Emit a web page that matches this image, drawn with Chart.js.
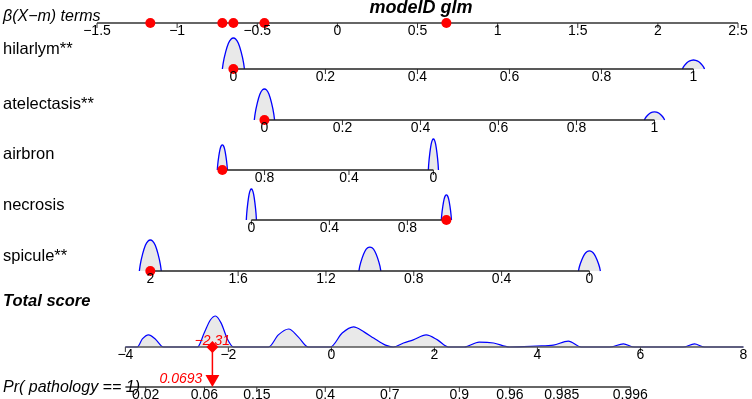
<!DOCTYPE html>
<html>
<head>
<meta charset="utf-8">
<script src="https://cdn.jsdelivr.net/npm/chart.js@4.4.0/dist/chart.umd.min.js"></script>
<style>
html, body { margin: 0; padding: 0; background: #fff; }
#wrap { width: 752px; height: 399px; }
</style>
</head>
<body>
<div id="wrap"><canvas id="canvas_nomo" width="752" height="399"></canvas></div>
<script>
// top axis: beta(X-m) terms
var betaTicks = [-1.5, -1, -0.5, 0, 0.5, 1, 1.5, 2, 2.5];

// predictors
var varLabels = ['hilarlym**', 'atelectasis**', 'airbron', 'necrosis', 'spicule**'];
var varCoef = [2.871, 2.434, -1.317, 1.217, -1.370];
var varMean = [0.226, 0.187, 0.455, 0.441, 1.148];
var varMin = [0, 0, 0, 0, 0];
var varMax = [1, 1, 1, 1, 2];
var varTicks = [
    [0, 0.2, 0.4, 0.6, 0.8, 1],
    [0, 0.2, 0.4, 0.6, 0.8, 1],
    [0.8, 0.4, 0],
    [0, 0.4, 0.8],
    [2, 1.6, 1.2, 0.8, 0.4, 0]
];
var varLevels = [[0, 1], [0, 1], [1, 0], [0, 1], [2, 1, 0]];
var varLevelDens = [[1, 0.29], [1, 0.26], [0.81, 1], [1, 0.81], [1, 0.77, 0.65]];
var varBandwidth = [0.024, 0.026, 0.024, 0.026, 0.05];
var patientValues = [0, 0, 1, 1, 2];

// kernel shape (offset in bandwidths, relative height)
var bumpOffset = [-1, -0.92, -0.7, -0.45, -0.2, 0, 0.2, 0.45, 0.7, 0.92, 1];
var bumpHeight = [0, 0.2, 0.55, 0.83, 0.97, 1, 0.97, 0.83, 0.55, 0.2, 0];

// total score
var scoreTicks = [-4, -2, 0, 2, 4, 6, 8];
var scoreDensX = [-4, -3.77, -3.67, -3.55, -3.42, -3.26, -2.60, -2.47, -2.35, -2.25, -2.14, -2.02, -1.90,
    -1.22, -1.03, -0.83, -0.64, -0.45, -0.02, 0.21, 0.43, 0.64, 0.82, 1.05, 1.20, 1.40, 1.59, 1.84, 2.06, 2.27,
    2.58, 2.87, 3.15, 3.46, 3.98, 4.31, 4.60, 4.85, 5.40, 5.67, 5.88, 6.83, 7.05, 7.24, 8];
var scoreDensY = [0, 0, 0.26, 0.39, 0.26, 0, 0, 0.45, 0.87, 1, 0.77, 0.26, 0,
    0, 0.39, 0.58, 0.32, 0, 0, 0.45, 0.65, 0.48, 0.29, 0.06, 0, 0.13, 0.23, 0.39, 0.23, 0,
    0, 0.16, 0.13, 0, 0.03, 0.06, 0.19, 0, 0, 0.1, 0, 0, 0.1, 0, 0];
var totalScore = -2.31;

// probability
var probTicks = [0.02, 0.06, 0.15, 0.4, 0.7, 0.9, 0.96, 0.985, 0.996];
var probValue = 0.0693;

// layout
var topY = 23;
var rowY = [69, 120, 170, 220, 271];
var scoreY = 347;
var probY = 387;
var densityPx = 31;
var scoreScale = 0.3214, scoreShift = -0.0374, logitShift = 0.287;
var FONT = "'Liberation Sans', Arial, sans-serif";
var RED = '#ff0000';
var BLUE = '#0000ff';

function betaOf(i, v) { return varCoef[i] * (v - varMean[i]); }
function scoreToBeta(s) { return s * scoreScale + scoreShift; }
function probToBeta(p) { return scoreToBeta(Math.log(p / (1 - p)) + logitShift); }
function fmt(v) { return String(v).replace('-', '\u2212'); }

var datasets = [];
function addLine(points, color, width, order, fillY) {
    datasets.push({
        data: points, showLine: true, borderColor: color, borderWidth: width,
        pointRadius: 0, order: order, clip: false,
        backgroundColor: fillY !== undefined ? '#e9e9e9' : color,
        fill: fillY !== undefined ? { value: fillY } : false,
        cubicInterpolationMode: fillY !== undefined ? 'monotone' : 'default'
    });
}

// axis lines
addLine([{ x: -1.5, y: topY }, { x: 2.5, y: topY }], '#333', 1.3, 1);
varLabels.forEach((_, i) => {
    addLine([{ x: betaOf(i, varMin[i]), y: rowY[i] }, { x: betaOf(i, varMax[i]), y: rowY[i] }], '#222', 1.3, 1);
});
addLine([{ x: scoreToBeta(-4), y: scoreY }, { x: scoreToBeta(8), y: scoreY }], '#555', 1.3, 1);
addLine([{ x: scoreToBeta(-4), y: probY }, { x: probToBeta(probTicks[probTicks.length - 1]), y: probY }], '#333', 1.3, 1);

// densities per level
varLabels.forEach((_, i) => {
    varLevels[i].forEach((lv, k) => {
        var pts = bumpOffset.map((o, j) => ({
            x: betaOf(i, lv + o * varBandwidth[i]),
            y: rowY[i] - bumpHeight[j] * varLevelDens[i][k] * densityPx
        }));
        addLine(pts, BLUE, 1.3, 2, rowY[i]);
    });
});
addLine(scoreDensX.map((s, j) => ({ x: scoreToBeta(s), y: scoreY - scoreDensY[j] * densityPx })), BLUE, 1.2, 2, scoreY);

// tick marks
var tickPts = [];
betaTicks.forEach(b => tickPts.push({ x: b, y: topY + 2.5 }));
varTicks.forEach((ts, i) => ts.forEach(v => tickPts.push({ x: betaOf(i, v), y: rowY[i] + 2.5 })));
scoreTicks.forEach(s => tickPts.push({ x: scoreToBeta(s), y: scoreY + 2.5 }));
probTicks.forEach(p => tickPts.push({ x: probToBeta(p), y: probY + 2.5 }));
datasets.push({
    data: tickPts, pointStyle: 'line', rotation: 90, pointRadius: 2.5,
    borderColor: '#333', borderWidth: 1, order: 1, clip: false
});

// patient markers
var dots = [];
varLabels.forEach((_, i) => {
    dots.push({ x: betaOf(i, patientValues[i]), y: topY });
    dots.push({ x: betaOf(i, patientValues[i]), y: rowY[i] });
});
datasets.push({
    data: dots, pointStyle: 'circle', pointRadius: 5, backgroundColor: RED,
    borderColor: RED, borderWidth: 0, order: 0, clip: false
});
var sx = scoreToBeta(totalScore);
addLine([{ x: sx, y: scoreY }, { x: sx, y: probY - 10 }], RED, 1.5, 0);
datasets.push({
    data: [{ x: sx, y: scoreY }], pointStyle: 'rectRot', pointRadius: 6,
    backgroundColor: RED, borderColor: RED, borderWidth: 0, order: 0, clip: false
});
datasets.push({
    data: [{ x: sx, y: probY - 8 }], pointStyle: 'triangle', rotation: 180, pointRadius: 8,
    backgroundColor: RED, borderColor: RED, borderWidth: 0, order: 0, clip: false
});

// texts: labels, tick labels
var textPlugin = {
    id: 'nomoText',
    afterDraw(chart) {
        var c = chart.ctx, xs = chart.scales.x, ys = chart.scales.y;
        function tickRow(list, toBeta, y) {
            c.font = '14px ' + FONT;
            c.fillStyle = '#000';
            c.textAlign = 'center';
            c.textBaseline = 'top';
            list.forEach(v => c.fillText(fmt(v), xs.getPixelForValue(toBeta(v)), ys.getPixelForValue(y) + 1));
        }
        c.save();
        tickRow(betaTicks, b => b, topY);
        varTicks.forEach((ts, i) => tickRow(ts, v => betaOf(i, v), rowY[i]));
        tickRow(scoreTicks, scoreToBeta, scoreY);
        tickRow(probTicks, probToBeta, probY);

        c.fillStyle = '#000';
        c.textAlign = 'left';
        c.textBaseline = 'middle';
        c.font = 'italic 16px ' + FONT;
        c.fillText('\u03b2(X\u2212m) terms', 3, 17);
        c.font = '16.5px ' + FONT;
        var labelY = [49, 104, 154, 205, 256];
        varLabels.forEach((t, i) => c.fillText(t, 3, labelY[i]));
        c.font = 'bold italic 16.5px ' + FONT;
        c.fillText('Total score', 3, 301);
        c.font = 'italic 16px ' + FONT;
        c.fillText('Pr( pathology == 1)', 3, 388);

        c.font = 'bold italic 18px ' + FONT;
        c.textAlign = 'center';
        c.fillText('modelD glm', 421, 8);

        var px = xs.getPixelForValue(sx);
        c.fillStyle = RED;
        c.font = 'italic 14px ' + FONT;
        c.fillText(fmt(totalScore), px, 341);
        c.textAlign = 'right';
        c.fillText(String(probValue), px - 10, 379);
        c.restore();
    }
};

const ctx = document.getElementById('canvas_nomo').getContext('2d');
var chart1 = new Chart(ctx, {
    type: 'scatter',
    data: { datasets: datasets },
    options: {
        responsive: false,
        devicePixelRatio: 1,
        animation: false,
        layout: { autoPadding: false, padding: { left: 97, right: 14, top: 0, bottom: 0 } },
        plugins: { legend: { display: false }, tooltip: { enabled: false } },
        scales: {
            x: { type: 'linear', min: -1.5, max: 2.5, display: false },
            y: { type: 'linear', min: 0, max: 399, reverse: true, display: false }
        }
    },
    plugins: [textPlugin]
});
</script>
</body>
</html>
